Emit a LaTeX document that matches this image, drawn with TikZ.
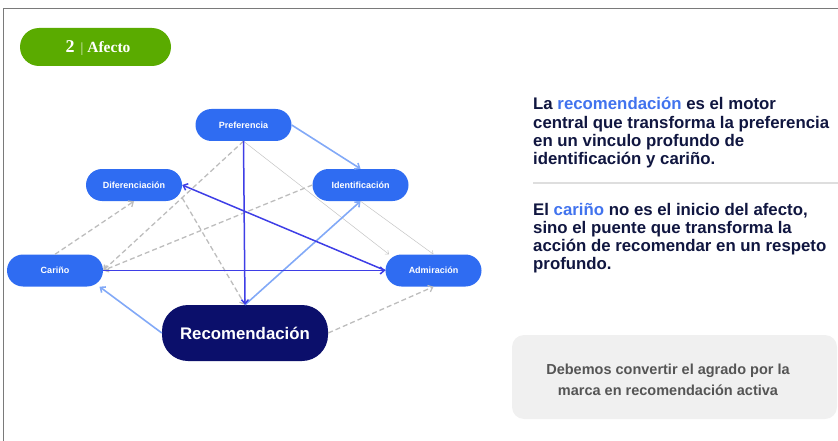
\documentclass[tikz,border=0pt]{standalone}
\usepackage{fontspec}
\setmainfont{Liberation Sans}
\newfontfamily\serifbold{Liberation Serif}
\usetikzlibrary{arrows.meta}
\definecolor{nodeblue}{HTML}{2F6CF2}
\definecolor{navy}{HTML}{0B0F6B}
\definecolor{darkline}{HTML}{3E3EE6}
\definecolor{lightline}{HTML}{82A9F7}
\definecolor{dashgray}{HTML}{BDBDBD}
\definecolor{thingray}{HTML}{C4C4C4}
\definecolor{textnavy}{HTML}{101640}
\definecolor{hiblue}{HTML}{4173EE}
\definecolor{boxgray}{HTML}{F0F0F0}
\definecolor{boxtext}{HTML}{555555}
\definecolor{green}{HTML}{5AAB00}
\definecolor{frame}{HTML}{7A7A7A}
\tikzset{
  pill/.style={rectangle, rounded corners=16pt, fill=nodeblue, text=white,
    font=\bfseries\fontsize{9}{10}\selectfont, minimum width=96pt, minimum height=32pt, inner sep=0pt},
  bigpill/.style={rectangle, rounded corners=26pt, fill=navy, text=white,
    font=\bfseries\fontsize{16.8}{20}\selectfont, minimum width=166pt, minimum height=56pt, inner sep=0pt},
  tip/.style={-{Straight Barb[length=4pt,width=7pt]}},
  darkarrow/.style={tip, draw=darkline, line width=1.5pt},
  lightarrow/.style={tip, draw=lightline, line width=1.6pt},
  dasharrow/.style={tip, draw=dashgray, line width=1.3pt, dash pattern=on 5pt off 3pt},
  thinarrow/.style={-{Straight Barb[length=3pt,width=5pt]}, draw=thingray, line width=0.5pt},
}
\begin{document}
\begin{tikzpicture}[x=1pt,y=-1pt]
\useasboundingbox (0,0) rectangle (838,441);
% frame
\draw[frame, line width=1.5pt] (3.5,441) -- (3.5,8.5) -- (838,8.5);
% header pill
\node[fill=green, rounded corners=19pt, minimum width=151pt, minimum height=38pt, inner sep=0pt] (hdr) at (95.5,47) {};
\node[text=white, inner sep=0pt, anchor=base] (hdrtext) at (98,53)
  {\serifbold\bfseries\fontsize{18}{18}\selectfont 2\hspace{6pt}{\mdseries\fontsize{14}{14}\selectfont\color{white!80!green}|}\hspace{4pt}\fontsize{15.5}{15.5}\selectfont Afecto};
% nodes
\node[pill] (pref) at (243.5,125) {Preferencia};
\node[pill] (dif) at (134,185) {Diferenciación};
\node[pill] (iden) at (360.5,185) {Identificación};
\node[pill] (car) at (55,270.5) {Cariño};
\node[pill] (adm) at (433.5,270.5) {Admiración};
\node[bigpill] (rec) at (245,333) {Recomendación};
% thin gray
\draw[thinarrow] (pref.south) -- (adm.160);
\draw[thinarrow] (iden.south) -- (adm.north);
% dashed gray
\draw[dasharrow] (pref.south) -- (car.east);
\draw[dasharrow] (iden.west) -- (car.east);
\draw[dasharrow] (car.north) -- (dif.south);
\draw[dasharrow] (dif.-15) -- (rec.north);
\draw[dasharrow] (rec.east) -- (adm.south);
% light blue
\draw[lightarrow] (pref.east) -- (iden.north);
\draw[lightarrow] (rec.north) -- (iden.south);
\draw[lightarrow] (rec.west) -- (car.-20);
% dark blue
\draw[darkarrow] (pref.south) -- (rec.north);
\draw[darkarrow] (adm.west) -- (dif.east);
\draw[darkarrow] (car.east) -- (adm.west);
% right text
\node[anchor=base west, inner sep=0pt, text=textnavy] (p1) at (533,110)
  {\parbox[t]{305pt}{\raggedright\bfseries\fontsize{16.8}{18.3}\selectfont
  La \textcolor{hiblue}{recomendación} es el motor\\
  central que transforma la preferencia\\
  en un vinculo profundo de\\
  identificación y cariño.}};
\draw[draw=black!13, line width=1.5pt] (533,183) -- (838,183);
\node[anchor=base west, inner sep=0pt, text=textnavy] (p2) at (533,215)
  {\parbox[t]{305pt}{\raggedright\bfseries\fontsize{16.8}{18.3}\selectfont
  El \textcolor{hiblue}{cariño} no es el inicio del afecto,\\
  sino el puente que transforma la\\
  acción de recomendar en un respeto\\
  profundo.}};
% gray box
\node[fill=boxgray, rounded corners=12pt, minimum width=325pt, minimum height=84pt, inner sep=0pt] (box) at (674.5,377) {};
\node[anchor=base, inner sep=0pt, text=boxtext] (boxtxt) at (668,374)
  {\parbox[t]{320pt}{\centering\bfseries\fontsize{14.5}{21.5}\selectfont
  Debemos convertir el agrado por la\\
  marca en recomendación activa}};
\end{tikzpicture}
\end{document}
